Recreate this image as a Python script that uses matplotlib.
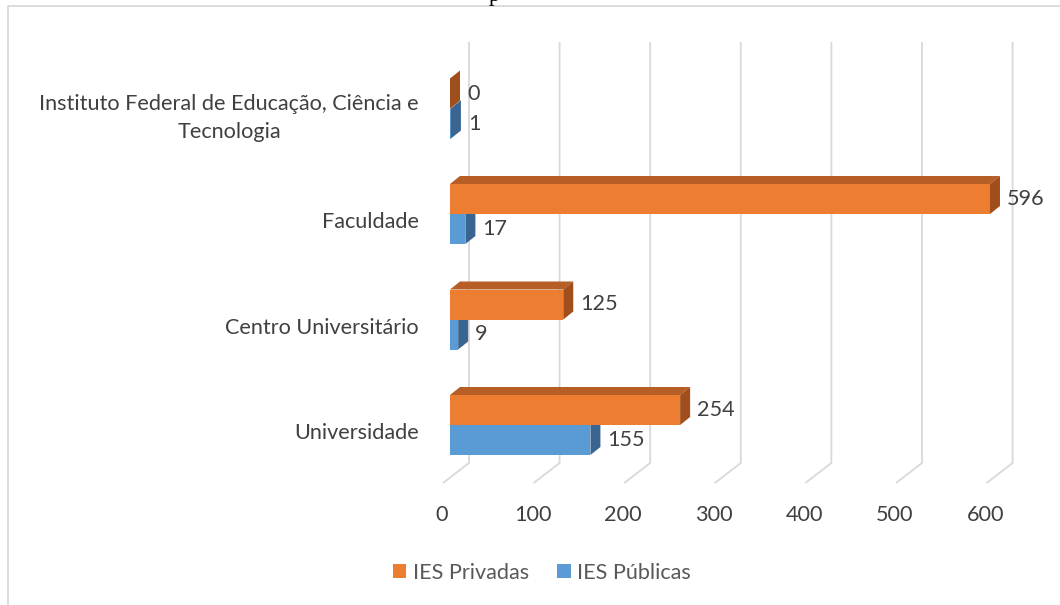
import matplotlib
matplotlib.use("Agg")
import matplotlib.pyplot as plt
from matplotlib.patches import Polygon, Patch
from matplotlib.lines import Line2D

# ---- data ----
categories = ["Universidade", "Centro Universitário", "Faculdade",
              "Instituto Federal de Educação, Ciência e\nTecnologia"]
privadas = [254, 125, 596, 0]
publicas = [155, 9, 17, 1]
series_names = ["IES Privadas", "IES Públicas"]
xticks = [0, 100, 200, 300, 400, 500, 600]

# ---- style ----
W, H = 1060, 605
PX = 0.906          # pixels per value unit
S = 105.5           # pixels per category step
X0 = 450            # pixel of value 0 (bar plane)
Y0 = 425            # pixel (from top) of first category center
FONT = "Lato"
FS = 15.6
TXT = "#404040"
c_or = ("#ED7D31", "#B65E25", "#A04E1C")   # front, top, side
c_bl = ("#5B9BD5", "#41719C", "#3A6590")
grid_c = "#D9D9D9"

fig = plt.figure(figsize=(W / 100, H / 100), dpi=100)
ax = fig.add_axes([0, 0, 1, 1])
ax.set_xlim(-X0 / PX, (W - X0) / PX)
ax.set_ylim((Y0 - H) / S, Y0 / S)
ax.axis("off")

def dxu(px):
    return px / PX

def dyu(px):
    return px / S

# back wall gridlines with floor perspective
top_y = dyu(Y0 - 42)
bot_y = dyu(Y0 - 463)
for v in xticks:
    xb = v + dxu(19)
    ax.plot([xb, xb, xb - dxu(26)], [top_y, bot_y, bot_y - dyu(20)],
            color=grid_c, lw=1.3, solid_capstyle="butt", zorder=1)
    ax.text(v - dxu(8), dyu(Y0 - 515), str(v), ha="center", va="center",
            fontsize=FS, color=TXT, family=FONT)

bh = dyu(30)
ddx, ddy = dxu(10), dyu(8)

def bar3d(val, yc, cols):
    y_lo, y_hi = yc - bh / 2, yc + bh / 2
    ax.barh(yc, val, height=bh, left=0, color=cols[0], zorder=3)
    top = [(0, y_hi), (val, y_hi), (val + ddx, y_hi + ddy), (ddx, y_hi + ddy)]
    side = [(val, y_lo), (val, y_hi), (val + ddx, y_hi + ddy), (val + ddx, y_lo + ddy)]
    ax.add_patch(Polygon(top, closed=True, facecolor=cols[1], edgecolor="none", zorder=3))
    ax.add_patch(Polygon(side, closed=True, facecolor=cols[2], edgecolor="none", zorder=3))
    ax.text(val + dxu(17), yc, str(val), ha="left", va="center",
            fontsize=FS, color=TXT, family=FONT, zorder=4)

for i, cat in enumerate(categories):
    bar3d(publicas[i], i - bh / 2, c_bl)
    bar3d(privadas[i], i + bh / 2, c_or)
    multi = "\n" in cat
    ax.text(dxu(419 - X0), i - dyu(9.5 if multi else 8), cat, ha="right", va="center",
            multialignment="center", fontsize=FS, color=TXT, family=FONT,
            linespacing=1.45)

# legend
handles = [Patch(facecolor=c_or[0]), Patch(facecolor=c_bl[0])]
leg = fig.legend(handles, series_names, loc="center", bbox_to_anchor=(542 / W, 1 - 573 / H),
                 ncol=2, frameon=False, handlelength=0.62, handleheight=0.62,
                 handletextpad=0.3, columnspacing=1.3,
                 prop={"family": FONT, "size": FS})
for t in leg.get_texts():
    t.set_color("#595959")

# chart frame (top and left edges visible)
fig.add_artist(Line2D([8 / W, 8 / W, 1.0], [0.0, 1 - 6 / H, 1 - 6 / H],
                      color=grid_c, lw=1.3, transform=fig.transFigure))
# partially visible caption above the frame (clipped at the top edge, as in the reference)
fig.text(494 / W, 1 - 0.5 / H, "p", ha="center", va="baseline",
         fontsize=16, family="Liberation Serif", color="black")

fig.savefig("out.png", dpi=100)
